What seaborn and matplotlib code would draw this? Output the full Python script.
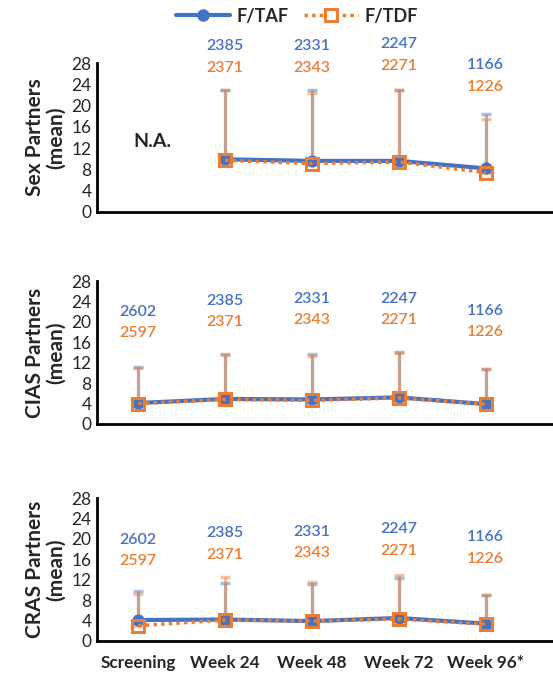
import numpy as np
import pandas as pd
import seaborn as sns
from matplotlib import pyplot as plt
from matplotlib.lines import Line2D

timepoints = ["Screening", "Week 24", "Week 48", "Week 72", "Week 96*"]
arms = ["F/TAF", "F/TDF"]
n_taf = [2602, 2385, 2331, 2247, 1166]
n_tdf = [2597, 2371, 2343, 2271, 1226]

panel_labels = ["Sex Partners\n(mean)", "CIAS Partners\n(mean)", "CRAS Partners\n(mean)"]

# means and upper error limits (mean + SD)
sex_taf_mean = [np.nan, 9.9, 9.6, 9.6, 8.2]
sex_tdf_mean = [np.nan, 9.7, 9.1, 9.4, 7.4]
sex_taf_upper = [np.nan, 23.0, 23.0, 23.0, 18.4]
sex_tdf_upper = [np.nan, 22.9, 22.3, 23.0, 17.4]

cias_taf_mean = [4.1, 4.9, 4.8, 5.2, 3.9]
cias_tdf_mean = [4.0, 4.8, 4.6, 5.1, 3.9]
cias_taf_upper = [11.2, 13.7, 13.8, 14.1, 10.8]
cias_tdf_upper = [10.9, 13.6, 13.3, 14.0, 10.8]

cras_taf_mean = [4.1, 4.2, 3.9, 4.5, 3.4]
cras_tdf_mean = [3.0, 4.1, 3.9, 4.3, 3.3]
cras_taf_upper = [9.8, 11.3, 11.2, 12.3, 9.0]
cras_tdf_upper = [9.3, 12.5, 11.6, 13.0, 9.0]

blue = "#4472C4"
orange = "#ED7D31"

sns.set_style("white")
plt.rcParams["font.family"] = ["Lato", "DejaVu Sans"]

fig = plt.figure(figsize=(5.53, 6.74), dpi=100)
rects = [[0.1754, 0.6855, 0.83, 0.221],
         [0.1754, 0.371, 0.83, 0.212],
         [0.1754, 0.049, 0.83, 0.212]]

panels = [
    (sex_taf_mean, sex_tdf_mean, sex_taf_upper, sex_tdf_upper),
    (cias_taf_mean, cias_tdf_mean, cias_taf_upper, cias_tdf_upper),
    (cras_taf_mean, cras_tdf_mean, cras_taf_upper, cras_tdf_upper),
]
# where the N labels sit (data units above the axis)
label_y = [
    [np.nan, 31.2, 31.2, 31.6, 27.6],
    [22.0, 24.1, 24.5, 24.5, 22.2],
    [19.8, 21.1, 21.4, 21.9, 20.3],
]

x = np.arange(len(timepoints))
for i, (rect, (tm, dm, tu, du)) in enumerate(zip(rects, panels)):
    ax = fig.add_axes(rect)
    df = pd.DataFrame({"x": x, "taf": tm, "tdf": dm})

    tm_a, dm_a = np.array(tm), np.array(dm)
    ax.errorbar(x, tm_a, yerr=[np.zeros(5), np.array(tu) - tm_a], fmt="none",
                ecolor=blue, alpha=0.45, elinewidth=2.3, capsize=3.5, capthick=2.5, zorder=1)
    ax.errorbar(x, dm_a, yerr=[np.zeros(5), np.array(du) - dm_a], fmt="none",
                ecolor=orange, alpha=0.45, elinewidth=2.3, capsize=3.5, capthick=2.5, zorder=1)

    sns.lineplot(data=df, x="x", y="taf", ax=ax, color=blue, linewidth=3,
                 marker="o", markersize=8, markeredgecolor=blue, zorder=3)
    sns.lineplot(data=df, x="x", y="tdf", ax=ax, color=orange, linewidth=2.5,
                 linestyle=(0, (1, 1.2)), marker="s", markersize=8,
                 markerfacecolor="none", markeredgecolor=orange, markeredgewidth=2.2, zorder=4)

    for j in range(5):
        if np.isnan(label_y[i][j]):
            continue
        ax.text(x[j], label_y[i][j], str(n_taf[j]), color=blue, ha="center",
                va="center", fontsize=11.5, fontweight="semibold", clip_on=False)
        ax.text(x[j], label_y[i][j] - 4.2, str(n_tdf[j]), color=orange, ha="center",
                va="center", fontsize=11.5, fontweight="semibold", clip_on=False)

    if i == 0:
        ax.text(0.16, 13.3, "N.A.", fontsize=14, fontweight="bold", ha="center", va="center")

    ax.set_ylim(0, 28)
    ax.set_xlim(-0.475, 4.81)
    ax.set_yticks(range(0, 29, 4))
    ax.tick_params(axis="y", labelsize=12.5, length=0, pad=4)
    ax.tick_params(axis="x", length=0, pad=10)
    ax.set_xticks(x)
    if i == 2:
        ax.set_xticklabels(timepoints, fontsize=12.3, fontweight="bold")
    else:
        ax.set_xticklabels([])
    ax.set_xlabel("")
    ax.set_ylabel(panel_labels[i], fontsize=15, fontweight="bold", labelpad=4,
                  linespacing=1.05)
    for side in ["top", "right"]:
        ax.spines[side].set_visible(False)
    for side in ["left", "bottom"]:
        ax.spines[side].set_color("black")
        ax.spines[side].set_linewidth(2)

handles = [
    Line2D([], [], color=blue, linewidth=3, marker="o", markersize=8),
    Line2D([], [], color=orange, linewidth=2.5, linestyle=(0, (1, 1.2)), marker="s",
           markersize=8, markerfacecolor="white", markeredgecolor=orange, markeredgewidth=2.2),
]
leg = fig.legend(handles, arms, loc="center", bbox_to_anchor=(0.537, 0.976), ncol=2,
                 frameon=False, handlelength=3.0, columnspacing=0.8, handletextpad=0.4,
                 prop={"size": 13, "weight": "bold"})

fig.savefig("out.png", dpi=100)
